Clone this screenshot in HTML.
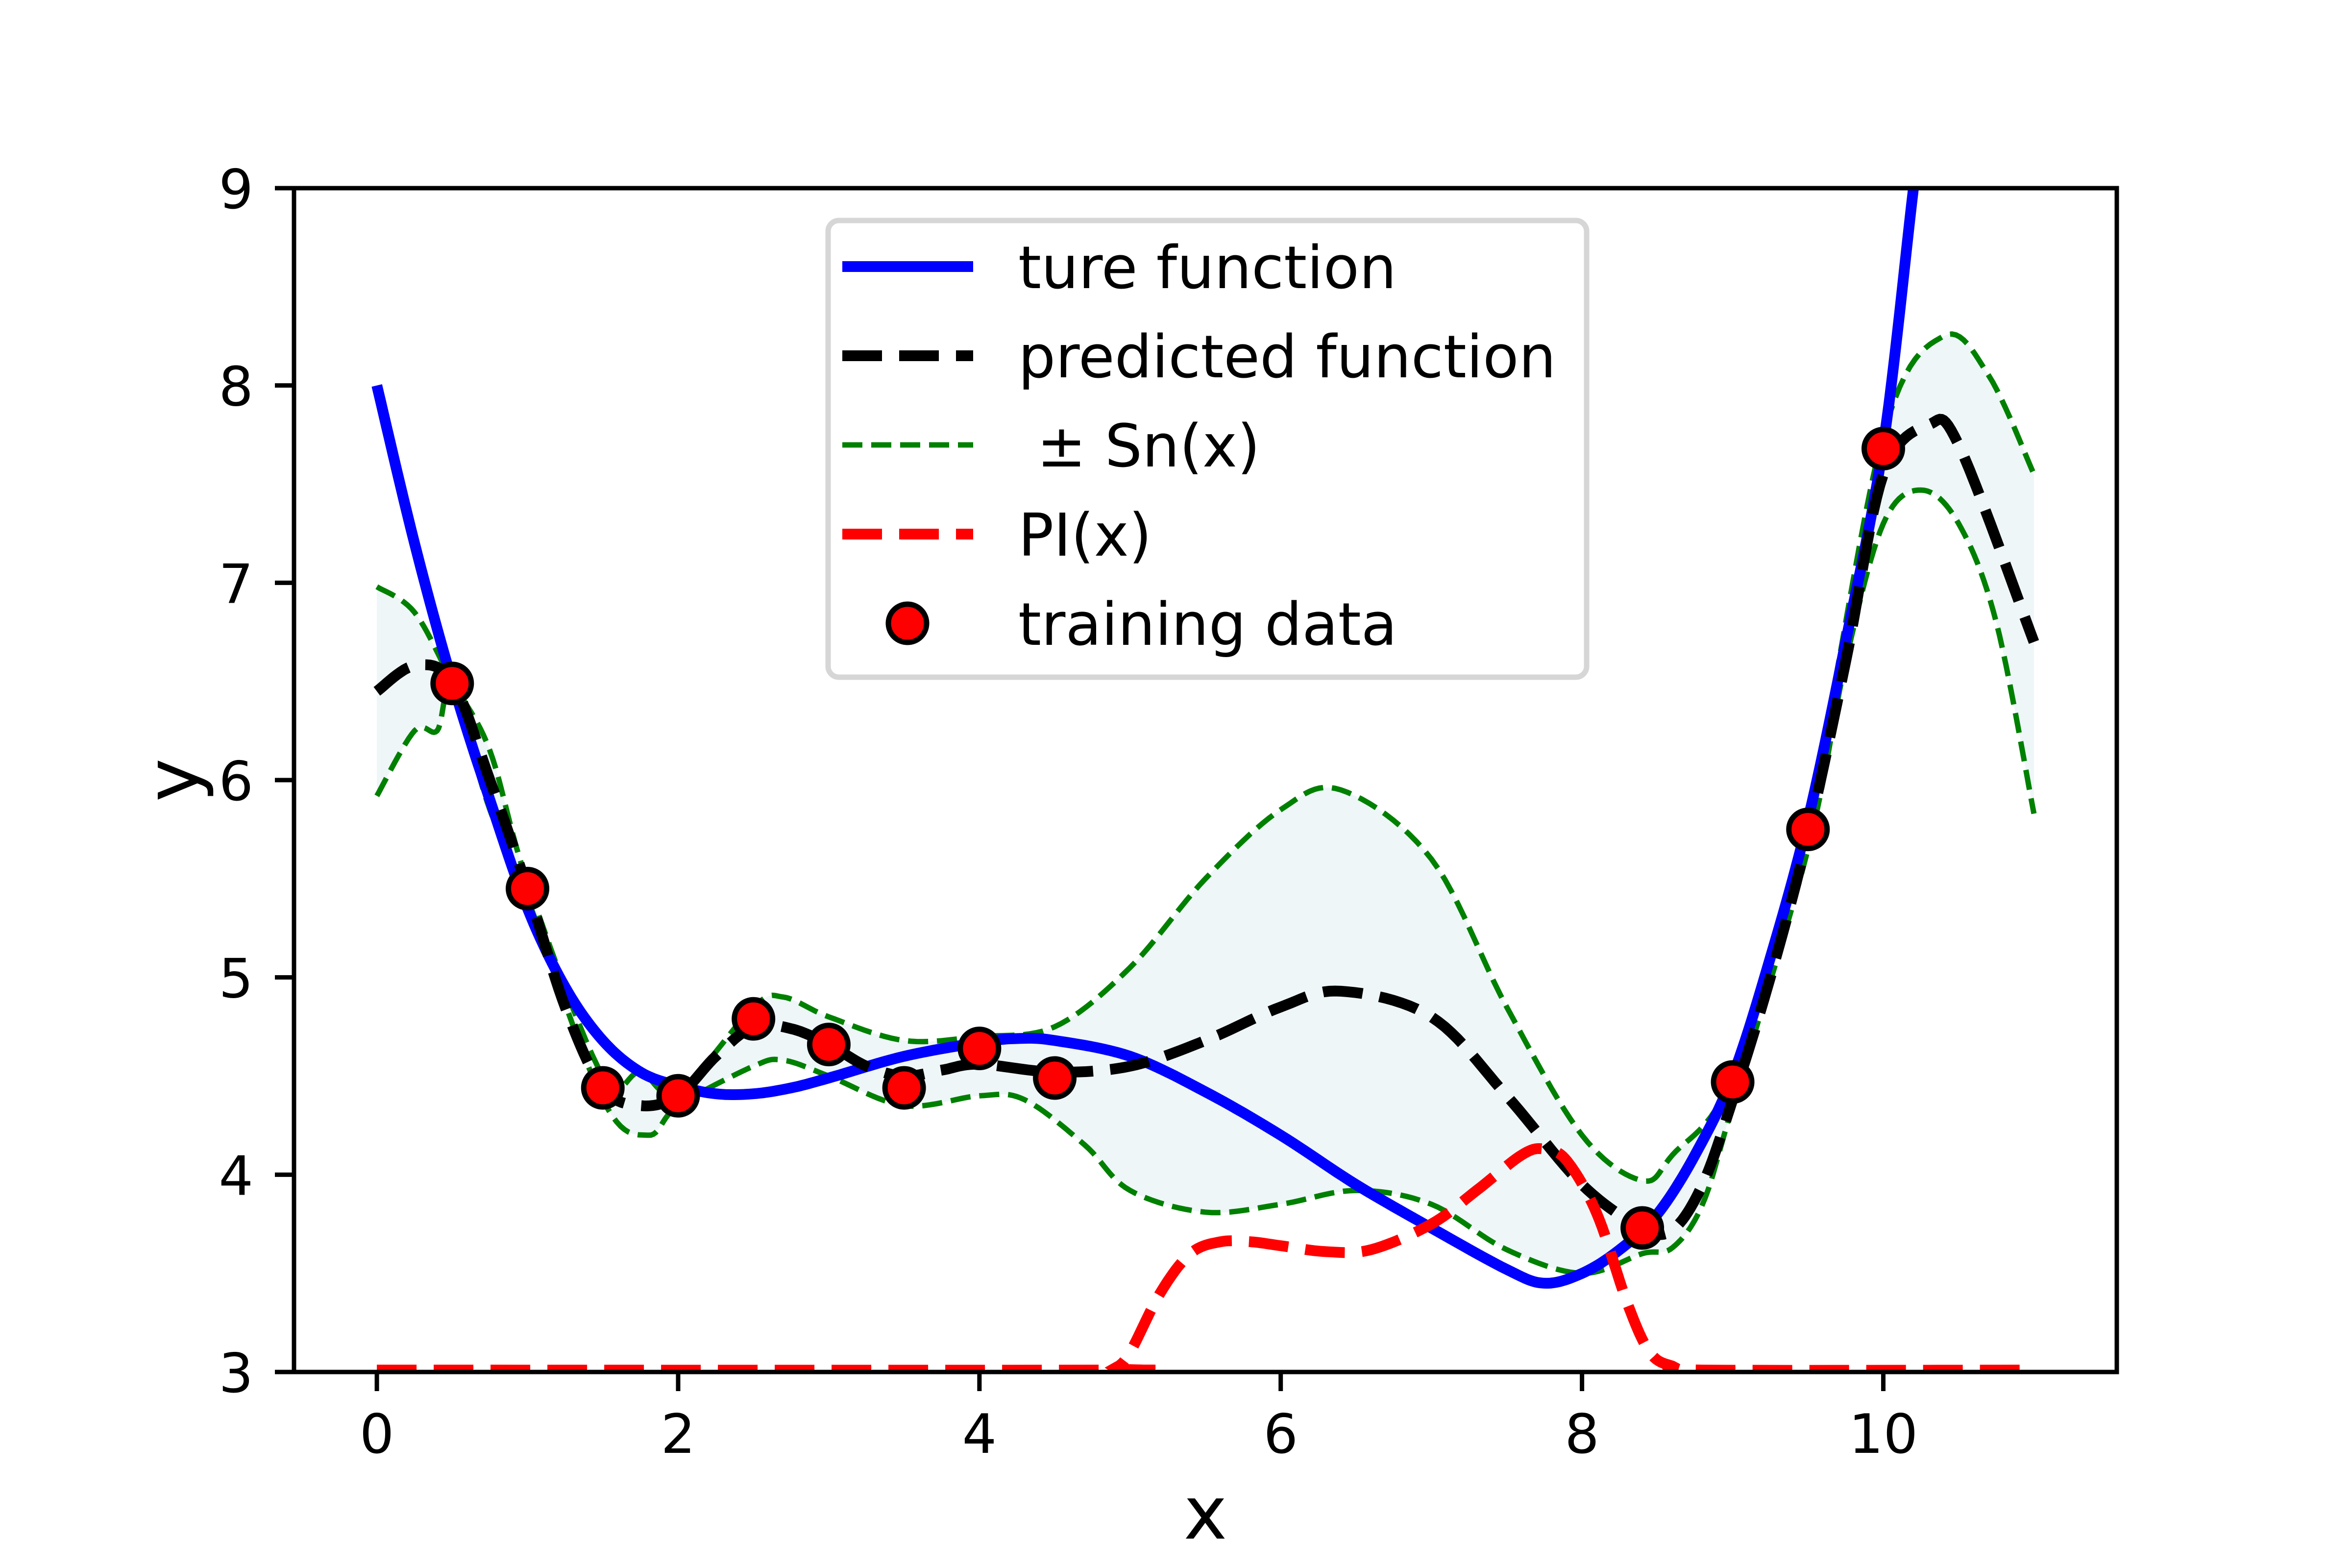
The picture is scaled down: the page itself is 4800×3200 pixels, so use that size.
<!DOCTYPE html>
<html><head><meta charset="utf-8"><style>
html,body{margin:0;padding:0;background:#fff;}
svg{display:block;font-family:"DejaVu Sans","Liberation Sans",sans-serif;}
</style></head><body>
<svg id="chart" width="4800" height="3200" viewBox="0 0 4800 3200" xmlns="http://www.w3.org/2000/svg">
<defs><clipPath id="plotClip"><rect x="600" y="384" width="3720" height="2416"/></clipPath></defs>
<rect x="0" y="0" width="4800" height="3200" fill="#fff"/>
<g id="plot" clip-path="url(#plotClip)"></g>
<g id="axes"></g>
<g id="legend"></g>
</svg>
<script>
const xTicks = [0, 2, 4, 6, 8, 10];
const yTicks = [3, 4, 5, 6, 7, 8, 9];
const trueX = [0,0.25,0.5,0.75,1,1.25,1.5,1.75,2,2.25,2.5,2.75,3,3.5,4,4.25,4.5,5,5.5,6,6.5,7,7.5,7.75,8,8.25,8.5,8.75,9,9.25,9.5,9.75,10,10.2,10.3];
const trueY = [8.0,7.2,6.5,5.9,5.35,4.95,4.68,4.52,4.45,4.41,4.41,4.44,4.49,4.6,4.67,4.69,4.68,4.6,4.42,4.2,3.95,3.73,3.52,3.45,3.5,3.62,3.8,4.1,4.5,5.1,5.8,6.7,7.7,9.0,9.6];
const predX = [0,0.25,0.5,0.75,1,1.25,1.5,1.75,2,2.25,2.5,2.75,3,3.25,3.5,3.75,4,4.5,5,5.5,6,6.4,7,7.5,8,8.4,8.6,8.8,9,9.25,9.5,9.75,10,10.3,10.5,11];
const predY = [6.45,6.58,6.5,6.0,5.45,4.85,4.44,4.35,4.4,4.6,4.75,4.74,4.66,4.55,4.5,4.53,4.56,4.52,4.55,4.68,4.85,4.93,4.8,4.4,3.95,3.73,3.72,3.95,4.38,5.0,5.72,6.6,7.55,7.8,7.7,6.7];
const upX = [0,0.25,0.5,0.75,1,1.5,1.75,2,2.5,2.7,3,3.5,4,4.5,5,5.5,6,6.4,7,7.5,8,8.4,8.6,9,9.5,10,10.4,10.7,11];
const upY = [6.98,6.85,6.5,6.15,5.48,4.5,4.52,4.42,4.85,4.9,4.8,4.68,4.7,4.75,5.05,5.5,5.85,5.95,5.6,4.85,4.2,3.97,4.1,4.5,5.8,7.75,8.25,8.05,7.55];
const loX = [0,0.25,0.4,0.5,0.75,1,1.5,1.8,2,2.5,2.7,3,3.5,4,4.3,4.7,5,5.5,6,6.5,7,7.5,8,8.4,8.6,8.8,9,9.5,9.75,10,10.25,10.5,10.75,11];
const loY = [5.92,6.25,6.25,6.45,5.85,5.4,4.38,4.2,4.35,4.55,4.58,4.5,4.35,4.4,4.38,4.15,3.92,3.81,3.85,3.92,3.85,3.62,3.5,3.6,3.63,3.85,4.35,5.65,6.6,7.3,7.47,7.3,6.8,5.83];
const piX = [0,4.8,4.9,5.0,5.2,5.4,5.6,5.8,6.0,6.3,6.6,7.0,7.3,7.6,7.75,7.9,8.1,8.3,8.45,8.6,8.8,11];
const piY = [3.01,3.01,3.02,3.1,3.4,3.6,3.66,3.66,3.64,3.61,3.62,3.75,3.92,4.1,4.13,4.07,3.8,3.35,3.1,3.03,3.01,3.01];
const dataX = [0.5,1,1.5,2,2.5,3,3.5,4,4.5,8.4,9,9.5,10];
const dataY = [6.49,5.45,4.44,4.40,4.79,4.66,4.44,4.64,4.49,3.73,4.47,5.75,7.68];

const L=600,R=4320,T=384,B=2800, XMIN=-0.55, XMAX=11.55, YMIN=3, YMAX=9;
function sx(v){return L+(v-XMIN)/(XMAX-XMIN)*(R-L);}
function sy(v){return B-(v-YMIN)/(YMAX-YMIN)*(B-T);}
const NS="http://www.w3.org/2000/svg";
function mk(tag,attrs,parent){const e=document.createElementNS(NS,tag);for(const k in attrs)e.setAttribute(k,attrs[k]);parent.appendChild(e);return e;}
function smoothPts(xs,ys){
  const P=xs.map((x,i)=>[sx(x),sy(ys[i])]);const out=[];
  for(let i=0;i<P.length-1;i++){
    const p0=P[Math.max(0,i-1)],p1=P[i],p2=P[i+1],p3=P[Math.min(P.length-1,i+2)];
    for(let s=0;s<12;s++){const t=s/12,t2=t*t,t3=t2*t;
      const f=(a,b,c,d)=>0.5*((2*b)+(-a+c)*t+(2*a-5*b+4*c-d)*t2+(-a+3*b-3*c+d)*t3);
      out.push([f(p0[0],p1[0],p2[0],p3[0]),f(p0[1],p1[1],p2[1],p3[1])]);}
  }
  out.push(P[P.length-1]);return out;
}
function pathD(pts){return pts.map((p,i)=>(i?'L':'M')+p[0].toFixed(1)+' '+p[1].toFixed(1)).join(' ');}

const plot=document.getElementById('plot');
const upPts=smoothPts(upX,upY), loPts=smoothPts(loX,loY);
const band=mk('path',{d:pathD(upPts.concat(loPts.slice().reverse()))+' Z',fill:'#eef6f8',stroke:'none'},plot);


const up=mk('path',{d:pathD(upPts),fill:'none',stroke:'#008000','stroke-width':11,'stroke-dasharray':'41 18'},plot);


const lo=mk('path',{d:pathD(loPts),fill:'none',stroke:'#008000','stroke-width':11,'stroke-dasharray':'41 18'},plot);


const tl=mk('path',{d:pathD(smoothPts(trueX,trueY)),fill:'none',stroke:'#0000ff','stroke-width':22},plot);


const pl=mk('path',{d:pathD(smoothPts(predX,predY)),fill:'none',stroke:'#000','stroke-width':22,'stroke-dasharray':'81 35'},plot);


const pil=mk('path',{d:pathD(smoothPts(piX,piY)),fill:'none',stroke:'#ff0000','stroke-width':22,'stroke-dasharray':'81 35'},plot);


dataX.forEach((x,i)=>{
  const c=mk('circle',{cx:sx(x),cy:sy(dataY[i]),r:39,fill:'#ff0000',stroke:'#000','stroke-width':11},plot);
  
  
});

const ax=document.getElementById('axes');
const frame=mk('rect',{x:L,y:T,width:R-L,height:B-T,fill:'none',stroke:'#000','stroke-width':9},ax);


xTicks.forEach(v=>{
  const t=mk('line',{x1:sx(v),x2:sx(v),y1:B,y2:B+39,stroke:'#000','stroke-width':9},ax);
  
  
  const lb=mk('text',{x:sx(v),y:B+39+44+82,'font-size':111,'text-anchor':'middle',fill:'#000'},ax);
  lb.textContent=String(v);
  
  
});
yTicks.forEach(v=>{
  const t=mk('line',{x1:L-39,x2:L,y1:sy(v),y2:sy(v),stroke:'#000','stroke-width':9},ax);
  
  
  const lb=mk('text',{x:L-39-44,y:sy(v)+41,'font-size':111,'text-anchor':'end',fill:'#000'},ax);
  lb.textContent=String(v);
  
  
});
const xl=mk('text',{x:(L+R)/2,y:3140,'font-size':150,'text-anchor':'middle',fill:'#000'},ax);
xl.textContent='x';


const yl=mk('text',{x:0,y:0,'font-size':150,'text-anchor':'middle',fill:'#000',transform:'translate(404,1592) rotate(-90)'},ax);
yl.textContent='y';



const lg=document.getElementById('legend');
const box=mk('rect',{x:1690,y:450,width:1548,height:932,rx:22,fill:'#fff','fill-opacity':0.8,stroke:'#d6d6d6','stroke-width':11},lg);


const rowsY=[544,726,908,1090,1272];
const labels=['ture function','predicted function',' \u00b1 Sn(x)','PI(x)','training data'];
const styles=[['#0000ff',22,''],['#000',22,'81 35'],['#008000',11,'41 18'],['#ff0000',22,'81 35']];
labels.forEach((txt,i)=>{
  const y=rowsY[i];
  if(i<4){
    const h=mk('line',{x1:1719,x2:1986,y1:y,y2:y,stroke:styles[i][0],'stroke-width':styles[i][1]},lg);
    if(styles[i][2])h.setAttribute('stroke-dasharray',styles[i][2]);
    
    
  } else {
    const c=mk('circle',{cx:1852,cy:y,r:39,fill:'#ff0000',stroke:'#000','stroke-width':11},lg);
    
    
  }
  const t=mk('text',{x:2078,y:y+44,'font-size':120,fill:'#000'},lg);
  t.setAttribute('style','white-space:pre');
  t.textContent=txt;
  
  
});
</script>
</body></html>
